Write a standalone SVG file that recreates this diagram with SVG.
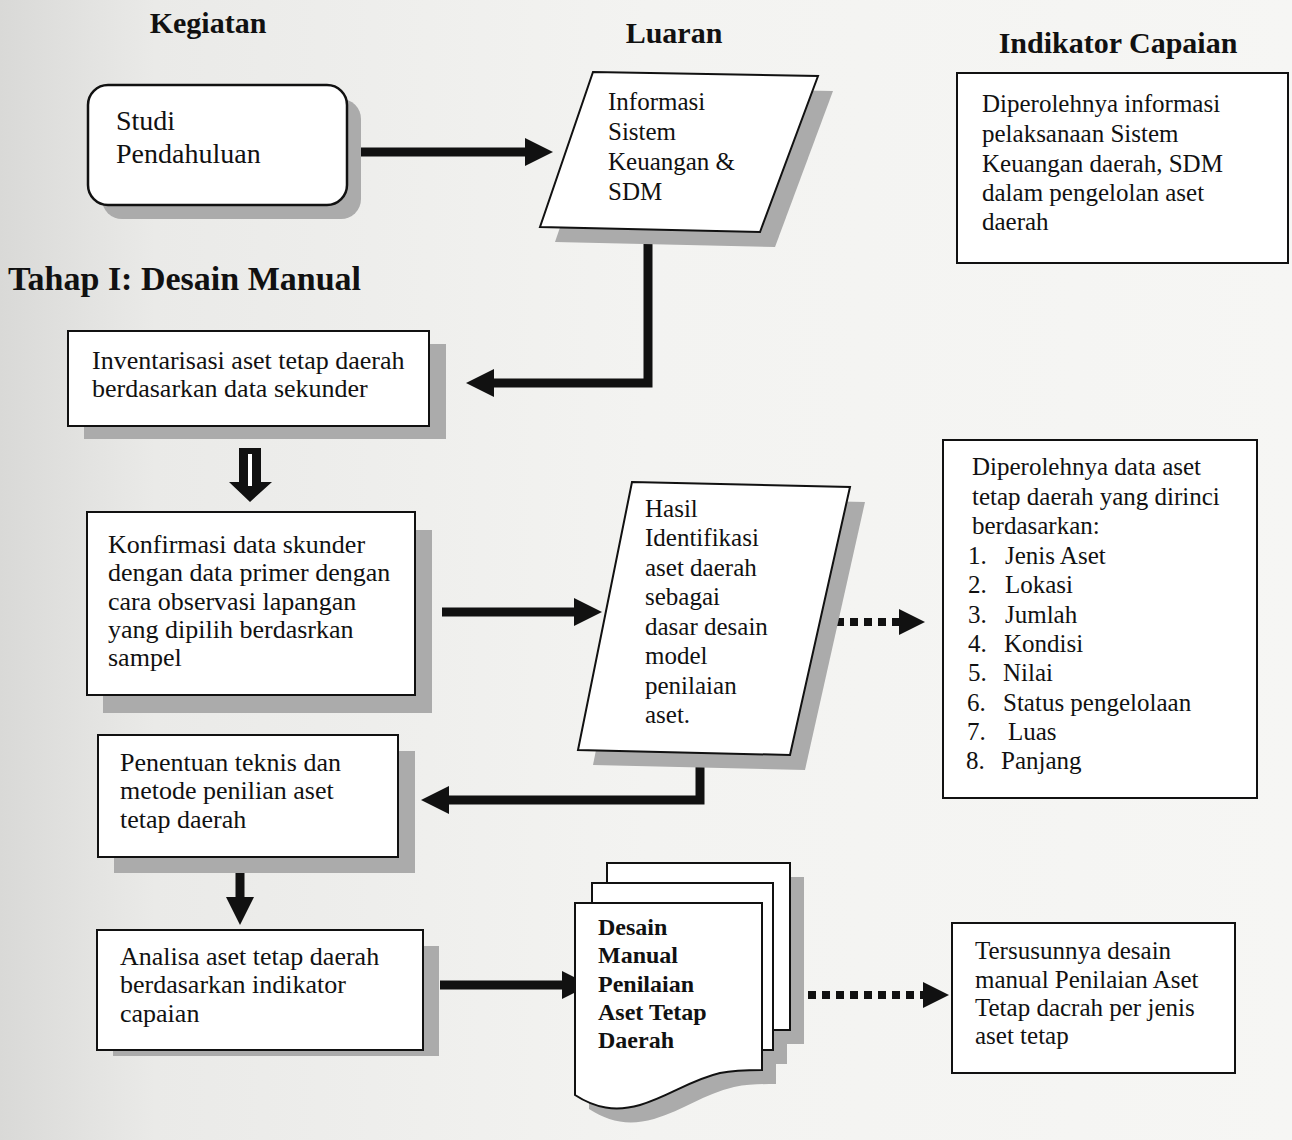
<svg xmlns="http://www.w3.org/2000/svg" width="1292" height="1140" viewBox="0 0 1292 1140">
<defs>
<linearGradient id="bg" x1="0" y1="0" x2="1" y2="0">
<stop offset="0" stop-color="#d9d9d7"/>
<stop offset="0.12" stop-color="#eaeae8"/>
<stop offset="0.5" stop-color="#f3f3f1"/>
<stop offset="1" stop-color="#f6f6f4"/>
</linearGradient>
<marker id="ah" markerUnits="userSpaceOnUse" markerWidth="30" markerHeight="30" refX="1" refY="14" orient="auto">
<path d="M0,0 L28,14 L0,28 Z" fill="#111"/>
</marker>
<marker id="ahs" markerUnits="userSpaceOnUse" markerWidth="30" markerHeight="30" refX="1" refY="13" orient="auto">
<path d="M0,0 L26,13 L0,26 Z" fill="#111"/>
</marker>
</defs>
<style>
.box{fill:#fff;stroke:#111;stroke-width:2}
.sh{fill:#ababab}
.t{font-family:"Liberation Serif","Times New Roman",serif;font-size:25px;fill:#111}
.tl{font-family:"Liberation Serif","Times New Roman",serif;font-size:26px;fill:#111}
.b{font-family:"Liberation Serif","Times New Roman",serif;font-size:24px;font-weight:bold;fill:#111}
.h{font-family:"Liberation Serif","Times New Roman",serif;font-size:30px;font-weight:bold;fill:#111}
.c{fill:none;stroke:#111;stroke-width:9;stroke-linejoin:miter}
.d{fill:none;stroke:#111;stroke-width:8;stroke-dasharray:8 6}
</style>
<rect x="0" y="0" width="1292" height="1140" fill="url(#bg)"/>

<g id="headers">
<text class="h" x="208" y="33" text-anchor="middle">Kegiatan</text>
<text class="h" x="674" y="43" text-anchor="middle">Luaran</text>
<text class="h" x="1118" y="53" text-anchor="middle">Indikator Capaian</text>
<text class="h" x="8" y="290" style="font-size:34px">Tahap I: Desain Manual</text>
</g>

<g id="connectors">
<line class="c" x1="347" y1="152" x2="526" y2="152" marker-end="url(#ah)"/>
<polyline class="c" points="648,232 648,383 493,383" marker-end="url(#ah)"/>
<line class="c" x1="442" y1="612" x2="575" y2="612" marker-end="url(#ah)"/>
<polyline class="c" points="700,755 700,800 448,800" marker-end="url(#ah)"/>
<line class="c" x1="240" y1="873" x2="240" y2="898" marker-end="url(#ah)"/>
<line class="c" x1="440" y1="985" x2="563" y2="985" marker-end="url(#ah)"/>
<line class="d" x1="836" y1="622" x2="900" y2="622" marker-end="url(#ahs)"/>
<line class="d" x1="766" y1="995" x2="924" y2="995" marker-end="url(#ahs)"/>
<polygon points="239,448 261,448 261,482 272,482 250,502 229,482 239,482" fill="#111"/>
<rect x="248" y="454" width="4" height="32" fill="#fff"/>
</g>

<g id="studi">
<rect class="sh" x="102" y="99" width="259" height="120" rx="20"/>
<rect class="box" x="88" y="85" width="259" height="120" rx="20" style="stroke-width:2.5"/>
<text class="t" x="116" y="130" style="font-size:28px">Studi</text>
<text class="t" x="116" y="163" style="font-size:28px">Pendahuluan</text>
</g>

<g id="informasi">
<polygon class="sh" points="608,87 833,91 775,247 555,242"/>
<polygon class="box" points="593,72 818,76 760,232 540,227"/>
<text class="t" x="608" y="110">Informasi</text>
<text class="t" x="608" y="140">Sistem</text>
<text class="t" x="608" y="170">Keuangan &amp;</text>
<text class="t" x="608" y="200">SDM</text>
</g>

<g id="indikator1">
<rect class="box" x="957" y="73" width="331" height="190"/>
<text class="t" x="982" y="112">Diperolehnya informasi</text>
<text class="t" x="982" y="142">pelaksanaan Sistem</text>
<text class="t" x="982" y="172">Keuangan daerah, SDM</text>
<text class="t" x="982" y="201">dalam pengelolan aset</text>
<text class="t" x="982" y="230">daerah</text>
</g>

<g id="inventarisasi">
<rect class="sh" x="84" y="344" width="362" height="95"/>
<rect class="box" x="68" y="331" width="361" height="95"/>
<text class="tl" x="92" y="369">Inventarisasi aset tetap daerah</text>
<text class="tl" x="92" y="397">berdasarkan data sekunder</text>
</g>

<g id="konfirmasi">
<rect class="sh" x="103" y="530" width="329" height="183"/>
<rect class="box" x="87" y="512" width="328" height="183"/>
<text class="tl" x="108" y="553">Konfirmasi data skunder</text>
<text class="tl" x="108" y="581">dengan data primer dengan</text>
<text class="tl" x="108" y="610">cara observasi lapangan</text>
<text class="tl" x="108" y="638">yang dipilih berdasrkan</text>
<text class="tl" x="108" y="666">sampel</text>
</g>

<g id="hasil">
<polygon class="sh" points="647,497 865,502 805,770 593,765"/>
<polygon class="box" points="632,482 850,487 790,755 578,750"/>
<text class="t" x="645" y="517">Hasil</text>
<text class="t" x="645" y="546">Identifikasi</text>
<text class="t" x="645" y="576">aset daerah</text>
<text class="t" x="645" y="605">sebagai</text>
<text class="t" x="645" y="635">dasar desain</text>
<text class="t" x="645" y="664">model</text>
<text class="t" x="645" y="694">penilaian</text>
<text class="t" x="645" y="723">aset.</text>
</g>

<g id="indikator2">
<rect class="box" x="943" y="440" width="314" height="358"/>
<text class="t" x="972" y="475">Diperolehnya data aset</text>
<text class="t" x="972" y="505">tetap daerah yang dirinci</text>
<text class="t" x="972" y="534">berdasarkan:</text>
<text class="t" x="968" y="564">1.</text><text class="t" x="1005" y="564">Jenis Aset</text>
<text class="t" x="968" y="593">2.</text><text class="t" x="1005" y="593">Lokasi</text>
<text class="t" x="968" y="623">3.</text><text class="t" x="1005" y="623">Jumlah</text>
<text class="t" x="968" y="652">4.</text><text class="t" x="1004" y="652">Kondisi</text>
<text class="t" x="968" y="681">5.</text><text class="t" x="1003" y="681">Nilai</text>
<text class="t" x="967" y="711">6.</text><text class="t" x="1003" y="711">Status pengelolaan</text>
<text class="t" x="967" y="740">7.</text><text class="t" x="1008" y="740">Luas</text>
<text class="t" x="966" y="769">8.</text><text class="t" x="1001" y="769">Panjang</text>
</g>

<g id="penentuan">
<rect class="sh" x="114" y="751" width="301" height="122"/>
<rect class="box" x="98" y="735" width="300" height="122"/>
<text class="tl" x="120" y="771">Penentuan teknis dan</text>
<text class="tl" x="120" y="799">metode penilian aset</text>
<text class="tl" x="120" y="828">tetap daerah</text>
</g>

<g id="analisa">
<rect class="sh" x="113" y="946" width="326" height="110"/>
<rect class="box" x="97" y="930" width="326" height="120"/>
<text class="tl" x="120" y="965">Analisa aset tetap daerah</text>
<text class="tl" x="120" y="993">berdasarkan indikator</text>
<text class="tl" x="120" y="1022">capaian</text>
</g>

<g id="dokumen">
<rect class="sh" x="621" y="877" width="183" height="167"/>
<rect class="sh" x="606" y="897" width="181" height="167"/>
<path class="sh" d="M589,917 L776,917 L776,1084 C764,1084 749,1084 734,1087 C704,1094 684,1110 654,1119 C629,1126 609,1122 589,1109 Z"/>
<rect class="box" x="607" y="863" width="183" height="167"/>
<rect class="box" x="592" y="883" width="181" height="167"/>
<path class="box" d="M575,903 L762,903 L762,1070 C750,1070 735,1070 720,1073 C690,1080 670,1096 640,1105 C615,1112 595,1108 575,1095 Z"/>
<text class="b" x="598" y="935">Desain</text>
<text class="b" x="598" y="963">Manual</text>
<text class="b" x="598" y="992">Penilaian</text>
<text class="b" x="598" y="1020">Aset Tetap</text>
<text class="b" x="598" y="1048">Daerah</text>
</g>

<g id="indikator3">
<rect class="box" x="952" y="923" width="283" height="150"/>
<text class="t" x="975" y="959">Tersusunnya desain</text>
<text class="t" x="975" y="988">manual Penilaian Aset</text>
<text class="t" x="975" y="1016">Tetap dacrah per jenis</text>
<text class="t" x="975" y="1044">aset tetap</text>
</g>
</svg>
